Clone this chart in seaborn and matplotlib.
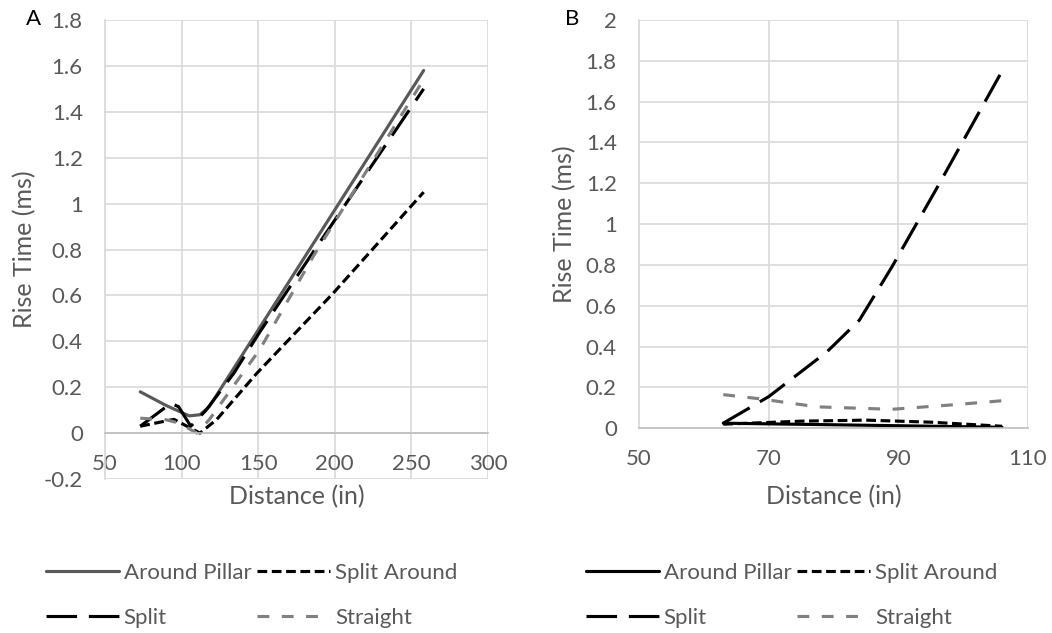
import matplotlib
matplotlib.use("Agg")
import matplotlib.pyplot as plt
import seaborn as sns

# ---- Panel A: rise time vs distance ----
a_pillar_x = [73, 90, 105, 112, 118, 130, 258]
a_pillar_y = [0.18, 0.12, 0.075, 0.08, 0.115, 0.24, 1.58]

a_split_around_x = [73, 95, 112, 123, 149, 199, 258]
a_split_around_y = [0.03, 0.06, 0.0, 0.06, 0.26, 0.61, 1.05]

a_split_x = [73, 93, 98, 106, 116, 134, 151, 186, 258]
a_split_y = [0.03, 0.13, 0.115, 0.03, 0.1, 0.26, 0.44, 0.79, 1.50]

a_straight_x = [73, 90, 98, 110, 118, 151, 186, 257]
a_straight_y = [0.065, 0.058, 0.044, 0.0, 0.058, 0.364, 0.771, 1.53]

# ---- Panel B: rise time vs distance ----
b_pillar_x = [63, 85, 106]
b_pillar_y = [0.025, 0.015, 0.005]

b_split_around_x = [63, 75, 85, 95, 106]
b_split_around_y = [0.02, 0.035, 0.04, 0.03, 0.01]

b_split_x = [63, 70, 79, 84, 89, 96, 106]
b_split_y = [0.025, 0.155, 0.375, 0.53, 0.79, 1.18, 1.75]

b_straight_x = [63, 68.5, 77.5, 89, 98, 106]
b_straight_y = [0.165, 0.145, 0.105, 0.093, 0.114, 0.135]

a_xticks = [50, 100, 150, 200, 250, 300]
a_yticks = [-0.2, 0, 0.2, 0.4, 0.6, 0.8, 1, 1.2, 1.4, 1.6, 1.8]
b_xticks = [50, 70, 90, 110]
b_yticks = [0, 0.2, 0.4, 0.6, 0.8, 1, 1.2, 1.4, 1.6, 1.8, 2]

sns.set_theme(style="white")
plt.rcParams["font.family"] = ["Lato", "DejaVu Sans"]
plt.rcParams["lines.scale_dashes"] = False

TEXT = "#595959"
GRID = "#d9d9d9"
AXLINE = "#bfbfbf"
LW = 2.25
TICK_FS = 16
LABEL_FS = 18

STYLES = {
    "Around Pillar": dict(linestyle="-"),
    "Split Around": dict(linestyle=(0, (7.0, 3.3))),
    "Split": dict(linestyle=(0, (22, 8.5))),
    "Straight": dict(linestyle=(0, (8.5, 9.0))),
}

fig = plt.figure(figsize=(10.52, 6.33), dpi=100)
W, H = 1052, 633


def px_axes(left, top, right, bottom):
    return [left / W, 1 - bottom / H, (right - left) / W, (bottom - top) / H]


axA = fig.add_axes(px_axes(105, 20, 488, 479))
axB = fig.add_axes(px_axes(639, 20, 1028, 428.3))


def draw_panel(ax, series, xlim, ylim, xticks, yticks):
    handles = {}
    for name, x, y, color in series:
        sns.lineplot(x=x, y=y, ax=ax, color=color, linewidth=LW,
                     sort=False, estimator=None, label=name,
                     **STYLES[name])
        handles[name] = ax.get_lines()[-1]
    ax.set_xlim(*xlim)
    ax.set_ylim(*ylim)
    ax.set_xticks(xticks)
    ax.set_xticklabels([f"{t:g}" for t in xticks])
    ax.set_yticks(yticks)
    ax.set_yticklabels([f"{t:g}" for t in yticks])
    ax.grid(True, color=GRID, linewidth=1.2)
    ax.set_axisbelow(True)
    for s in ("top", "right"):
        ax.spines[s].set_visible(False)
    ax.spines["left"].set_color(GRID)
    ax.spines["left"].set_linewidth(1.2)
    ax.spines["bottom"].set_color(AXLINE)
    ax.spines["bottom"].set_linewidth(1.2)
    ax.spines["bottom"].set_position(("data", 0))
    ax.tick_params(axis="both", length=0, labelsize=TICK_FS, colors=TEXT)
    ax.tick_params(axis="x", pad=15)
    ax.tick_params(axis="y", pad=16)
    ax.set_xlabel("Distance (in)", fontsize=LABEL_FS, color=TEXT)
    ax.set_ylabel("Rise Time (ms)", fontsize=LABEL_FS, color=TEXT)
    order = ["Around Pillar", "Split", "Split Around", "Straight"]
    ax.legend([handles[n] for n in order], order, ncol=2, frameon=False,
              fontsize=TICK_FS, labelcolor=TEXT, handlelength=3.3,
              handletextpad=0.2, columnspacing=0.25, labelspacing=1.12,
              borderpad=0, borderaxespad=0, loc="upper left")
    return ax.get_legend()


legA = draw_panel(
    axA,
    [("Around Pillar", a_pillar_x, a_pillar_y, "#595959"),
     ("Split Around", a_split_around_x, a_split_around_y, "black"),
     ("Split", a_split_x, a_split_y, "black"),
     ("Straight", a_straight_x, a_straight_y, "#808080")],
    (50, 300), (-0.2, 1.8), a_xticks, a_yticks)
legA.set_bbox_to_anchor((46 / W, 1 - 563 / H), transform=fig.transFigure)

legB = draw_panel(
    axB,
    [("Around Pillar", b_pillar_x, b_pillar_y, "black"),
     ("Split Around", b_split_around_x, b_split_around_y, "black"),
     ("Split", b_split_x, b_split_y, "black"),
     ("Straight", b_straight_x, b_straight_y, "#808080")],
    (50, 110), (0, 2), b_xticks, b_yticks)
legB.set_bbox_to_anchor((586 / W, 1 - 563 / H), transform=fig.transFigure)

# axis title placement
axA.xaxis.set_label_coords(0.5, (479 - 485) / 459)
axB.xaxis.set_label_coords(0.5, (428.3 - 485) / 408.3)
axA.yaxis.set_label_coords((36 - 105) / 383, 0.5)
axB.yaxis.set_label_coords((576 - 639) / 389, 0.5)

fig.text(33 / W, 1 - 19 / H, "A", fontsize=16, color="black",
         ha="center", va="center")
fig.text(572 / W, 1 - 19 / H, "B", fontsize=16, color="black",
         ha="center", va="center")

fig.savefig("out.png", dpi=100, facecolor="white")
